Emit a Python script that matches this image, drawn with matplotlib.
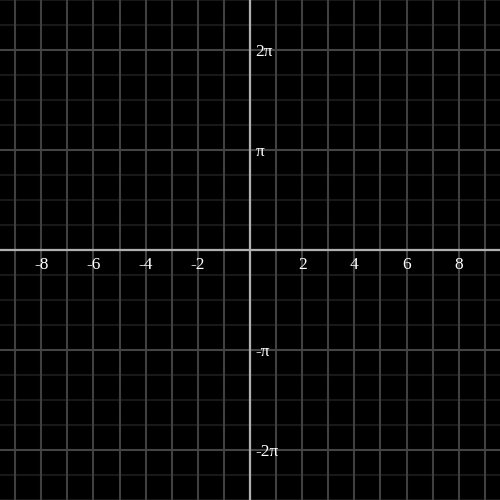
import numpy as np
import matplotlib
matplotlib.use("Agg")
import matplotlib.pyplot as plt

# axis extents (data units)
x_extent = 9.58
y_extent = 2.5 * np.pi

# tick values and labels
x_ticks = [-8, -6, -4, -2, 2, 4, 6, 8]
x_labels = ["-8", "-6", "-4", "-2", "2", "4", "6", "8"]
y_ticks = [2 * np.pi, np.pi, -np.pi, -2 * np.pi]
y_labels = ["2π", "π", "-π", "-2π"]

# grid positions
x_grid = list(range(-9, 10))
y_major = [k * np.pi for k in range(-2, 3)]
y_minor = [k * np.pi / 4 for k in range(-10, 11) if k % 4 != 0]

fig = plt.figure(figsize=(5, 5), dpi=100, facecolor="black")
ax = fig.add_axes([0, 0, 1, 1])
ax.set_facecolor("black")
ax.set_xlim(-x_extent, x_extent)
ax.set_ylim(-y_extent, y_extent)
ax.set_axis_off()

for y in y_minor:
    ax.axhline(y, color="#181818", lw=1.5, zorder=1)
for x in x_grid:
    ax.axvline(x, color="#404040", lw=1.5, zorder=2)
for y in y_major:
    ax.axhline(y, color="#444444", lw=1.5, zorder=2)

ax.axhline(0, color="#b0b0b0", lw=1.6, zorder=3)
ax.axvline(0, color="#b0b0b0", lw=1.6, zorder=3)

font = dict(family="Liberation Serif", fontsize=12.5, color="white")
for x, lab in zip(x_ticks, x_labels):
    ax.annotate(lab, (x, 0), xytext=(0, -5), textcoords="offset points",
                ha="center", va="top", zorder=4, **font)
for y, lab in zip(y_ticks, y_labels):
    ax.annotate(lab, (0, y), xytext=(4, -1.5), textcoords="offset points",
                ha="left", va="center", zorder=4, **font)

plt.savefig("out.png", dpi=100, facecolor="black")
plt.close()
